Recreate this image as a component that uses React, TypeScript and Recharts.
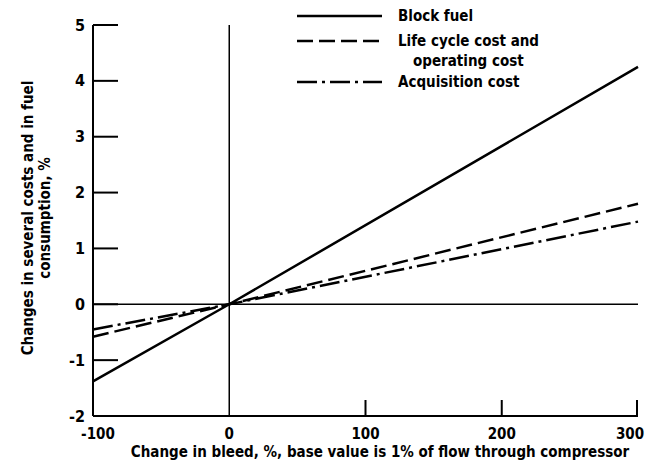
import React from 'react';
import { LineChart, Line, XAxis, YAxis, ReferenceLine, Legend } from 'recharts';

const bleedChange = [-100, 0, 300];
const blockFuel = [-1.38, 0, 4.25];
const lifeCycleCost = [-0.58, 0, 1.8];
const acquisitionCost = [-0.45, 0, 1.48];
const xTicks = [-100, 0, 100, 200, 300];
const yTicks = [-2, -1, 0, 1, 2, 3, 4, 5];

const data = bleedChange.map((x, i) => ({
  x,
  block: blockFuel[i],
  life: lifeCycleCost[i],
  acq: acquisitionCost[i],
}));

const FONT = '"DejaVu Sans Condensed", "DejaVu Sans", sans-serif';

const YTick = (props: any) => {
  const { x, y, payload } = props;
  return (
    <g>
      <line x1={x} x2={x + 25} y1={y} y2={y} stroke="#000" strokeWidth={2} />
      <text x={x - 8} y={y} textAnchor="end" dominantBaseline="central" fontFamily={FONT} fontWeight="bold" fontSize={16} fill="#000">
        {payload.value}
      </text>
    </g>
  );
};

const XTick = (props: any) => {
  const { x, y, payload, index } = props;
  const shift = index === 0 ? 5 : index === xTicks.length - 1 ? -7 : 0;
  return (
    <g>
      {payload.value > 0 && <line x1={x} x2={x} y1={y} y2={y - 16} stroke="#000" strokeWidth={2} />}
      <text x={x + shift} y={y + 18} textAnchor="middle" dominantBaseline="central" fontFamily={FONT} fontWeight="bold" fontSize={15} fill="#000">
        {payload.value}
      </text>
    </g>
  );
};

const legendItems = [
  { key: 'block', dash: undefined as string | undefined, lines: ['Block fuel'] },
  { key: 'life', dash: '16 6', lines: ['Life cycle cost and', 'operating cost'] },
  { key: 'acq', dash: '20 5 3 5', lines: ['Acquisition cost'] },
];

const LegendContent = () => {
  const rows = [16, 41, 82];
  return (
    <svg width={649} height={100} style={{ position: 'absolute', left: 0, top: 0, overflow: 'visible' }}>
      {legendItems.map((item, i) => (
        <g key={item.key}>
          <line x1={297} x2={382} y1={rows[i]} y2={rows[i]} stroke="#000" strokeWidth={2.5} strokeDasharray={item.dash} />
          {item.lines.map((t, j) => (
            <text key={t} x={j === 0 ? 398 : 413} y={rows[i] + j * 20} dominantBaseline="central" fontFamily={FONT} fontWeight="bold" fontSize={15} fill="#000">
              {t}
            </text>
          ))}
        </g>
      ))}
    </svg>
  );
};

const YLabel = () => (
  <text transform="translate(28,218) rotate(-90)" textAnchor="middle" fontFamily={FONT} fontWeight="bold" fontSize={15} fill="#000">
    <tspan x={0} dy={5}>Changes in several costs and in fuel</tspan>
    <tspan x={0} dy={17}>consumption, %</tspan>
  </text>
);

const XLabel = () => (
  <text x={380} y={452} textAnchor="middle" dominantBaseline="central" fontFamily={FONT} fontWeight="bold" fontSize={15} fill="#000">
    Change in bleed, %, base value is 1% of flow through compressor
  </text>
);

export default function App() {
  return (
    <div style={{ position: 'absolute', left: 0, top: 0, background: '#fff' }}>
      <LineChart width={649} height={475} data={data} margin={{ top: 25, right: 11, bottom: 0, left: 33 }}>
        <XAxis
          dataKey="x"
          type="number"
          domain={[-100, 300]}
          ticks={xTicks}
          tickSize={0}
          tickMargin={0}
          tick={<XTick />}
          axisLine={{ stroke: '#000', strokeWidth: 2 }}
          tickLine={false}
          height={59}
          label={{ content: () => <XLabel /> } as any}
        />
        <YAxis
          type="number"
          domain={[-2, 5]}
          ticks={yTicks}
          tickSize={0}
          tickMargin={0}
          tick={<YTick />}
          axisLine={{ stroke: '#000', strokeWidth: 2 }}
          tickLine={false}
          width={60}
          label={{ content: () => <YLabel /> } as any}
        />
        <ReferenceLine x={0} stroke="#000" strokeWidth={1.5} />
        <ReferenceLine y={0} stroke="#000" strokeWidth={1.5} />
        <Line dataKey="block" name="Block fuel" stroke="#000" strokeWidth={2.5} dot={false} isAnimationActive={false} />
        <Line dataKey="life" name="Life cycle cost and operating cost" stroke="#000" strokeWidth={2.5} strokeDasharray="16 6" dot={false} isAnimationActive={false} />
        <Line dataKey="acq" name="Acquisition cost" stroke="#000" strokeWidth={2.5} strokeDasharray="20 5 3 5" dot={false} isAnimationActive={false} />
        <Legend verticalAlign="top" content={<LegendContent />} wrapperStyle={{ position: 'absolute', left: 0, top: 0, width: 649, height: 0, overflow: 'visible' }} />
      </LineChart>
    </div>
  );
}
